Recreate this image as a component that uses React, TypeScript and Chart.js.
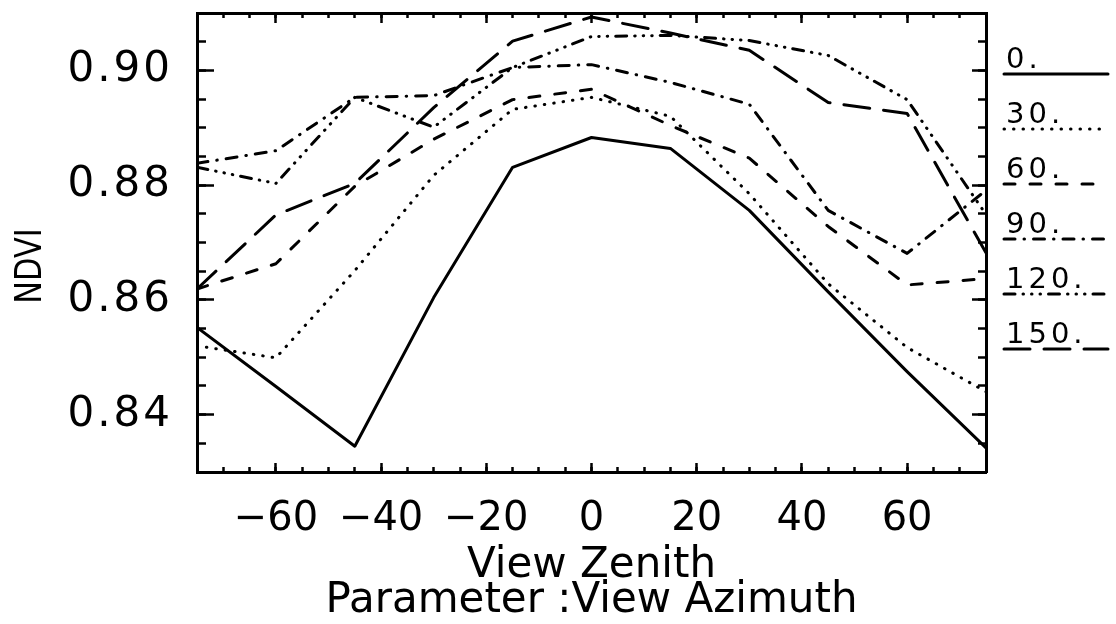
import React, { useEffect, useRef } from 'react';
import { Chart, registerables } from 'chart.js';

Chart.register(...registerables);

// View zenith angles (x)
const zenith = [-75, -60, -45, -30, -15, 0, 15, 30, 45, 60, 75];

// Legend / series names (view azimuth)
const azimuthLabels = ['0.', '30.', '60.', '90.', '120.', '150.'];

// NDVI per view azimuth
const ndviAz0 = [0.8552, 0.8449, 0.8345, 0.8604, 0.8831, 0.8883, 0.8864, 0.8756, 0.8614, 0.8475, 0.8342];
const ndviAz30 = [0.8520, 0.8499, 0.8651, 0.8817, 0.8932, 0.8953, 0.8920, 0.8785, 0.8628, 0.8517, 0.8440];
const ndviAz60 = [0.8619, 0.8663, 0.8798, 0.8880, 0.8949, 0.8967, 0.8904, 0.8847, 0.8728, 0.8626, 0.8637];
const ndviAz90 = [0.8838, 0.8860, 0.8953, 0.8956, 0.9005, 0.9010, 0.8979, 0.8941, 0.8756, 0.8681, 0.8791];
const ndviAz120 = [0.8831, 0.8803, 0.8953, 0.8901, 0.9005, 0.9059, 0.9061, 0.9052, 0.9026, 0.8949, 0.8749];
const ndviAz150 = [0.8619, 0.8748, 0.8803, 0.8935, 0.9051, 0.9093, 0.9065, 0.9035, 0.8944, 0.8925, 0.8682];

// Tick values
const xMajorTicks = [-60, -40, -20, 0, 20, 40, 60];
const yMajorTicks = [0.84, 0.86, 0.88, 0.9];

const X_MIN = -75;
const X_MAX = 75;
const Y_MIN = 0.83;
const Y_MAX = 0.91;

const yTitle = 'NDVI';
const xTitle = ['View Zenith', 'Parameter :View Azimuth'];

const FONT = '"DejaVu Sans", sans-serif';

// Line styles (one per series)
const dashStyles: number[][] = [
  [],
  [0.5, 9],
  [11, 15],
  [11, 9, 0.5, 9],
  [11, 8, 0.5, 8, 0.5, 8, 0.5, 8],
  [26, 14],
];

const customPlugin = {
  id: 'azLegend',
  beforeDraw(chart: any) {
    const s = chart.scales.y;
    if (s && !s.__ls) {
      const orig = s.drawLabels.bind(s);
      s.drawLabels = (area: any) => {
        const c = chart.ctx;
        c.save();
        c.letterSpacing = '3px';
        orig(area);
        c.restore();
      };
      s.__ls = true;
    }
  },
  afterDraw(chart: any) {
    const ctx = chart.ctx;
    const area = chart.chartArea;
    ctx.save();
    // legend
    chart.data.datasets.forEach((ds: any, i: number) => {
      const base = 68 + 55 * i;
      const x0 = area.right + 18;
      ctx.font = '29px ' + FONT;
      ctx.letterSpacing = '4px';
      ctx.fillStyle = '#000';
      ctx.textAlign = 'left';
      ctx.textBaseline = 'alphabetic';
      ctx.fillText(ds.label, x0 + 2, base);
      ctx.beginPath();
      ctx.setLineDash(ds.borderDash || []);
      ctx.lineWidth = 3;
      ctx.lineCap = 'round';
      ctx.strokeStyle = '#000';
      ctx.moveTo(x0, base + 6);
      ctx.lineTo(x0 + 104, base + 6);
      ctx.stroke();
    });
    // y axis title
    ctx.setLineDash([]);
    ctx.letterSpacing = '0px';
    ctx.translate(31, 266);
    ctx.rotate(-Math.PI / 2);
    ctx.scale(0.8, 1);
    ctx.font = '38px ' + FONT;
    ctx.textAlign = 'center';
    ctx.textBaseline = 'middle';
    ctx.fillStyle = '#000';
    ctx.fillText(yTitle, 0, 0);
    ctx.restore();
  },
};

const setTicks = (vals: number[]) => (scale: any) => {
  scale.ticks = vals.map((v) => ({ value: v }));
};

export default function App() {
  const canvasRef = useRef<HTMLCanvasElement | null>(null);

  useEffect(() => {
    const canvas = canvasRef.current;
    if (!canvas) return;
    const series = [ndviAz0, ndviAz30, ndviAz60, ndviAz90, ndviAz120, ndviAz150];
    const datasets = series.map((vals, i) => ({
      label: azimuthLabels[i],
      data: zenith.map((z, j) => ({ x: z, y: vals[j] })),
      borderColor: '#000',
      backgroundColor: '#000',
      borderWidth: 3,
      borderDash: dashStyles[i],
      borderCapStyle: 'round',
      borderJoinStyle: 'round',
      pointRadius: 0,
      tension: 0,
      fill: false,
      xAxisID: 'x',
      yAxisID: 'y',
    }));

    const tickGrid = (len: number) => ({
      display: true,
      drawOnChartArea: false,
      drawTicks: true,
      tickLength: len,
      tickWidth: 2.5,
      tickColor: '#000',
    });
    const border = { display: true, width: 3, color: '#000' };
    const noBorder = { display: false };
    const zeroH = (s: any) => { s.height = 0; s.paddingLeft = 0; s.paddingRight = 0; };
    const zeroW = (s: any) => { s.width = 0; s.paddingTop = 0; s.paddingBottom = 0; };

    const chart = new Chart(canvas, {
      type: 'line',
      data: { datasets: datasets as any },
      plugins: [customPlugin],
      options: {
        animation: false,
        responsive: false,
        devicePixelRatio: 1,
        layout: { padding: { top: 13, right: 130, left: 0, bottom: 0 } },
        plugins: { legend: { display: false }, tooltip: { enabled: false } },
        scales: {
          x: {
            type: 'linear',
            position: 'bottom',
            weight: 1,
            min: X_MIN,
            max: X_MAX,
            afterBuildTicks: setTicks(xMajorTicks),
            afterFit: (s: any) => { s.height = 152; s.paddingLeft = 0; s.paddingRight = 0; },
            ticks: {
              autoSkip: false,
              maxRotation: 0,
              minRotation: 0,
              padding: 33,
              color: '#000',
              font: { family: FONT, size: 40 },
              callback: (v: any) => (v < 0 ? '\u2212' + Math.abs(v) : String(v)),
            },
            grid: tickGrid(-9),
            border,
            title: {
              display: true,
              text: xTitle,
              color: '#000',
              font: { family: FONT, size: 42, lineHeight: '35px' },
              padding: { top: 0, bottom: 5 },
            },
          },
          xMinor: {
            type: 'linear',
            position: 'bottom',
            weight: 0,
            min: X_MIN,
            max: X_MAX,
            afterFit: zeroH,
            ticks: { display: false, stepSize: 5 },
            grid: tickGrid(-5),
            border: noBorder,
          },
          xTop: {
            type: 'linear',
            position: 'top',
            weight: 1,
            min: X_MIN,
            max: X_MAX,
            afterBuildTicks: setTicks(xMajorTicks),
            afterFit: zeroH,
            ticks: { display: false },
            grid: tickGrid(-10),
            border,
          },
          xTopMinor: {
            type: 'linear',
            position: 'top',
            weight: 0,
            min: X_MIN,
            max: X_MAX,
            afterFit: zeroH,
            ticks: { display: false, stepSize: 5 },
            grid: tickGrid(-5),
            border: noBorder,
          },
          y: {
            type: 'linear',
            position: 'left',
            weight: 1,
            min: Y_MIN,
            max: Y_MAX,
            afterBuildTicks: setTicks(yMajorTicks),
            afterFit: (s: any) => { s.width = 197; s.paddingTop = 0; s.paddingBottom = 0; },
            ticks: {
              padding: 41,
              color: '#000',
              font: { family: FONT, size: 42 },
              callback: (v: any) => Number(v).toFixed(2),
            },
            grid: tickGrid(-17),
            border,
          },
          yMinor: {
            type: 'linear',
            position: 'left',
            weight: 0,
            min: Y_MIN,
            max: Y_MAX,
            afterFit: zeroW,
            ticks: { display: false, stepSize: 0.005 },
            grid: tickGrid(-9),
            border: noBorder,
          },
          yRight: {
            type: 'linear',
            position: 'right',
            weight: 1,
            min: Y_MIN,
            max: Y_MAX,
            afterBuildTicks: setTicks(yMajorTicks),
            afterFit: zeroW,
            ticks: { display: false },
            grid: tickGrid(-14),
            border,
          },
          yRightMinor: {
            type: 'linear',
            position: 'right',
            weight: 0,
            min: Y_MIN,
            max: Y_MAX,
            afterFit: zeroW,
            ticks: { display: false, stepSize: 0.005 },
            grid: tickGrid(-8),
            border: noBorder,
          },
        },
      } as any,
    });

    return () => {
      chart.destroy();
    };
  }, []);

  return (
    <div style={{ position: 'fixed', left: 0, top: 0, width: 1116, height: 624, background: '#fff' }}>
      <canvas ref={canvasRef} width={1116} height={624} style={{ display: 'block' }} />
    </div>
  );
}
